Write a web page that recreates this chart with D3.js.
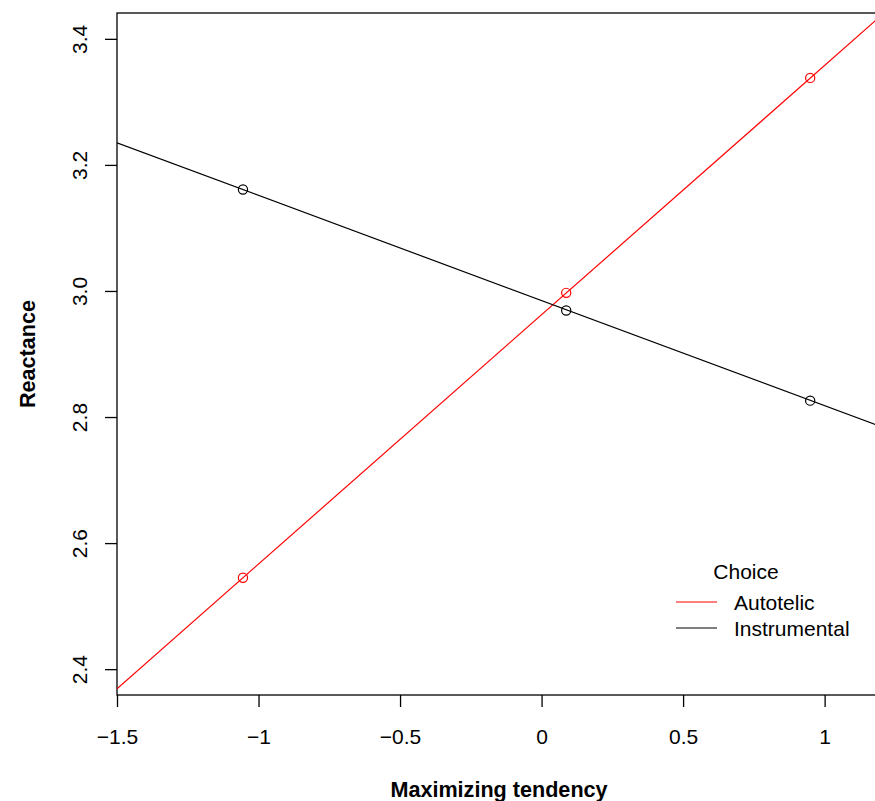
<!DOCTYPE html>
<html>
<head>
<meta charset="utf-8">
<script src="https://cdn.jsdelivr.net/npm/d3@7"></script>
<style>
  body { margin: 0; background: #fff; }
  svg { display: block; font-family: "Liberation Sans", Arial, sans-serif; }
</style>
</head>
<body>
<div id="canvas"></div>
<script>
"use strict"

/* Data */
let groups = ["Autotelic", "Instrumental"];
let xPoints = [-1.055, 0.087, 0.949];            // maximizing tendency at -1SD, mean, +1SD
let autotelicMeans = [2.545, 2.997, 3.338];
let instrumentalMeans = [3.161, 2.969, 2.826];
let lineX = [-1.5, 1.18];                        // fitted lines, ends of the visible range
let autotelicLine = [2.369, 3.429];
let instrumentalLine = [3.235, 2.788];
let xTicks = [-1.5, -1, -0.5, 0, 0.5, 1];
let xTickLabels = ["\u22121.5", "\u22121", "\u22120.5", "0", "0.5", "1"];
let yTicks = [2.4, 2.6, 2.8, 3.0, 3.2, 3.4];

let colors = { "Autotelic": "#ff0000", "Instrumental": "#000000" };

/* Drawing config */
let svgWidth = 875;
let svgHeight = 801;
let plotLeft = 117;
let plotRight = 875;
let plotTop = 13;
let plotBottom = 695;
let fontSize = 21;

let svg = d3.select("#canvas")
    .append("svg")
    .attr("width", svgWidth)
    .attr("height", svgHeight);

let xScale = d3.scaleLinear()
    .domain([-1.5, 1.178])
    .range([plotLeft, plotRight]);

let yScale = d3.scaleLinear()
    .domain([2.359, 3.441])
    .range([plotBottom, plotTop]);

// clip for the fitted lines
svg.append("clipPath")
    .attr("id", "plotClip")
    .append("rect")
    .attr("x", plotLeft)
    .attr("y", plotTop)
    .attr("width", plotRight - plotLeft + 20)
    .attr("height", plotBottom - plotTop);

// box (right side sits off the picture)
svg.append("rect")
    .attr("x", plotLeft)
    .attr("y", plotTop)
    .attr("width", plotRight - plotLeft + 20)
    .attr("height", plotBottom - plotTop)
    .attr("fill", "none")
    .attr("stroke", "#000")
    .attr("stroke-width", 1.3);

/* x axis */
let xAxis = d3.axisBottom(xScale)
    .tickValues(xTicks)
    .tickSize(12)
    .tickFormat((d, i) => xTickLabels[i]);

let gx = svg.append("g")
    .attr("transform", "translate(0," + plotBottom + ")")
    .call(xAxis);
gx.select(".domain").remove();
gx.selectAll(".tick line").attr("stroke", "#000").attr("stroke-width", 1.3);
gx.selectAll(".tick text")
    .attr("y", 49)
    .attr("dy", 0)
    .attr("fill", "#000")
    .style("font-size", fontSize + "px")
    .style("font-family", "Liberation Sans, Arial, sans-serif");

/* y axis, labels turned like R does */
let yAxis = d3.axisLeft(yScale)
    .tickValues(yTicks)
    .tickSize(12)
    .tickFormat(d3.format(".1f"));

let gy = svg.append("g")
    .attr("transform", "translate(" + plotLeft + ",0)")
    .call(yAxis);
gy.select(".domain").remove();
gy.selectAll(".tick line").attr("stroke", "#000").attr("stroke-width", 1.3);
gy.selectAll(".tick text")
    .attr("x", 0)
    .attr("y", 0)
    .attr("dy", 0)
    .attr("text-anchor", "middle")
    .attr("transform", "translate(-30,0) rotate(-90)")
    .attr("fill", "#000")
    .style("font-size", fontSize + "px")
    .style("font-family", "Liberation Sans, Arial, sans-serif");

/* axis titles */
svg.append("text")
    .attr("x", 499)
    .attr("y", 797)
    .attr("text-anchor", "middle")
    .attr("font-weight", "bold")
    .attr("font-size", 21.6)
    .text("Maximizing tendency");

svg.append("text")
    .attr("transform", "translate(35," + ((plotTop + plotBottom) / 2) + ") rotate(-90)")
    .attr("text-anchor", "middle")
    .attr("font-weight", "bold")
    .attr("font-size", 21.6)
    .text("Reactance");

/* fitted lines */
let series = [
    { name: "Autotelic", means: autotelicMeans, line: autotelicLine },
    { name: "Instrumental", means: instrumentalMeans, line: instrumentalLine }
];

let lineGen = d3.line()
    .x(d => xScale(d[0]))
    .y(d => yScale(d[1]));

svg.append("g")
    .attr("clip-path", "url(#plotClip)")
    .selectAll("path")
    .data(series)
    .join("path")
    .attr("d", s => lineGen(lineX.map((x, i) => [x, s.line[i]])))
    .attr("fill", "none")
    .attr("stroke", s => colors[s.name])
    .attr("stroke-width", 1.2);

/* group means as open circles */
series.forEach(function (s) {
    svg.append("g")
        .selectAll("circle")
        .data(xPoints.map((x, i) => [x, s.means[i]]))
        .join("circle")
        .attr("cx", d => xScale(d[0]))
        .attr("cy", d => yScale(d[1]))
        .attr("r", 4.6)
        .attr("fill", "none")
        .attr("stroke", colors[s.name])
        .attr("stroke-width", 1.2);
});

/* legend */
svg.append("text")
    .attr("x", 746)
    .attr("y", 579)
    .attr("text-anchor", "middle")
    .attr("font-size", fontSize)
    .text("Choice");

let legend = svg.append("g")
    .selectAll("g")
    .data(groups)
    .join("g")
    .attr("transform", (d, i) => "translate(0," + (602 + i * 26) + ")");

legend.append("line")
    .attr("x1", 676)
    .attr("x2", 717)
    .attr("stroke", d => colors[d])
    .attr("stroke-width", 1.2);

legend.append("text")
    .attr("x", 734)
    .attr("y", 8)
    .attr("font-size", fontSize)
    .text(d => d);
</script>
</body>
</html>
